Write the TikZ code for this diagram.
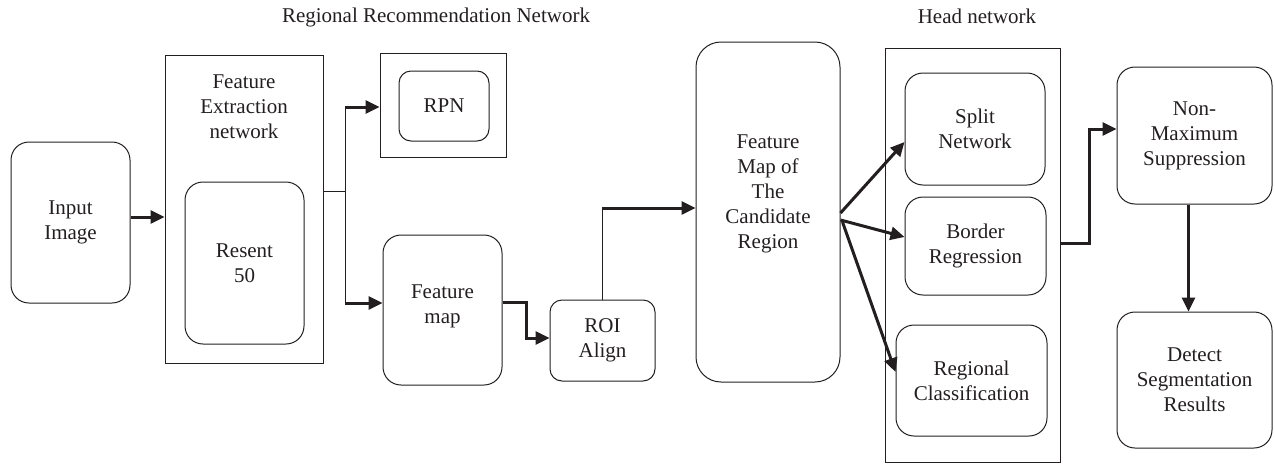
\documentclass[tikz,border=0pt]{standalone}
\usepackage{fontspec}
\setmainfont{Liberation Serif}
\usetikzlibrary{arrows.meta}
\definecolor{ink}{RGB}{35,31,32}
\newcommand{\dfont}{\fontsize{21}{25}\selectfont}
\begin{document}
\begin{tikzpicture}[x=1pt,y=-1pt,
  every node/.style={text=ink},
  box/.style={draw=ink, line width=1pt, rounded corners=18pt, inner sep=0pt, align=center, font=\dfont},
  sbox/.style={box, rounded corners=12pt},
  frame/.style={draw=ink, line width=0.9pt, inner sep=0pt},
  lbl/.style={inner sep=0pt, align=center, font=\dfont},
  thk/.style={draw=ink, line width=3pt, -{Triangle[length=14pt,width=13pt]}},
  thn/.style={draw=ink, line width=1pt}]
\useasboundingbox (0,0) rectangle (1275,464);
% titles
\node[lbl] (t1) at (436,17) {Regional Recommendation Network};
\node[lbl] (t2) at (977,16) {Head network};
% nodes
\node[box, minimum width=119pt, minimum height=161pt] (input) at (70.5,222.5) {Input\\Image};
\node[frame, minimum width=158pt, minimum height=308pt] (fe) at (244,209) {};
\node[lbl] (fet) at (244,107) {Feature\\Extraction\\network};
\node[box, minimum width=119pt, minimum height=162pt] (res) at (244.5,263) {Resent\\50};
\node[frame, minimum width=126pt, minimum height=104pt] (rpnout) at (443,105) {};
\node[sbox, minimum width=90pt, minimum height=70pt] (rpn) at (444,106) {RPN};
\node[box, minimum width=119pt, minimum height=150pt] (fmap) at (442.5,310) {};
\node[lbl] (fmapt) at (442.5,306) {Feature\\map};
\node[sbox, minimum width=105pt, minimum height=81pt] (roi) at (602.5,340.5) {ROI\\Align};
\node[box, rounded corners=25pt, minimum width=144pt, minimum height=340pt] (cand) at (768,212) {};
\node[lbl] (candt) at (768,194) {Feature\\Map of\\The\\Candidate\\Region};
\node[frame, minimum width=175pt, minimum height=414pt] (head) at (972.5,255) {};
\node[box, minimum width=140pt, minimum height=112pt] (split) at (975,129) {Split\\Network};
\node[box, minimum width=141pt, minimum height=98pt] (border) at (975.5,246) {Border\\Regression};
\node[box, minimum width=151pt, minimum height=111pt] (regc) at (971.5,380.5) {Regional\\Classification};
\node[box, minimum width=155pt, minimum height=137pt] (nms) at (1194.5,135.5) {Non-\\Maximum\\Suppression};
\node[box, minimum width=155pt, minimum height=136pt] (det) at (1194.5,380) {Detect\\Segmentation\\Results};
% junction coordinates
\coordinate (j1) at (345,191);
\coordinate (ja) at (345,107);
\coordinate (jb) at (345,303);
\coordinate (k1) at (526,302);
\coordinate (k2) at (526,338);
\coordinate (r1) at (602,208);
\coordinate (h1) at (1089,243);
% connectors
\draw[thk] ([yshift=5.5pt]input.east) -- ([yshift=5.5pt]input.east -| fe.west);
\draw[thn] (fe.east |- j1) -- (j1);
\draw[thn] (ja) -- (jb);
\draw[thk] (ja) -- (ja -| rpnout.west);
\draw[thk] (jb) -- (jb -| fmap.west);
\draw[thk] (fmap.east |- k1) -- (k1) -- (k2) -- (k2 -| roi.west);
\draw[thn] (roi.north -| r1) -- (r1);
\draw[thk] (r1) -- (r1 -| cand.west);
\draw[thk] ([yshift=-1pt]cand.east) -- ([yshift=-13pt]split.west);
\draw[thk] ([yshift=-8pt]cand.east) -- ([yshift=9pt]border.west);
\draw[thk] ([yshift=-10pt,xshift=2pt]cand.east) -- ([yshift=8.5pt]regc.west);
\draw[thk] (head.east |- h1) -- (h1) |- ([yshift=6.5pt]nms.west);
\draw[thk] ([xshift=-6pt]nms.south) -- ([xshift=-6pt]det.north);
\end{tikzpicture}
\end{document}
